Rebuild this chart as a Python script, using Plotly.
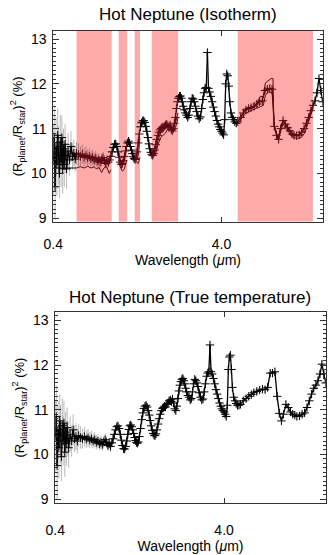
import plotly.graph_objects as go

# ---------------- data ----------------
wavelength = [
    0.400, 0.405, 0.410, 0.415, 0.420, 0.425, 0.430, 0.435, 0.440, 0.445, 0.450, 0.455,
    0.460, 0.465, 0.470, 0.475, 0.480, 0.490, 0.500, 0.510, 0.520, 0.530, 0.540, 0.550,
    0.565, 0.580, 0.595, 0.610, 0.625, 0.640, 0.655, 0.670, 0.685, 0.700, 0.715, 0.730,
    0.745, 0.760, 0.775, 0.790, 0.805, 0.820, 0.835, 0.850, 0.865, 0.880,
    0.895, 0.910, 0.925, 0.940, 0.955, 0.970, 0.985, 1.000, 1.015, 1.030, 1.045, 1.060,
    1.075, 1.090, 1.105, 1.120, 1.135, 1.150, 1.165, 1.180, 1.195, 1.210, 1.225, 1.240,
    1.260, 1.280, 1.300, 1.320, 1.340, 1.360, 1.380, 1.400, 1.420, 1.440, 1.460, 1.480,
    1.500, 1.520, 1.540, 1.560, 1.580, 1.600, 1.625, 1.650, 1.675, 1.700, 1.725, 1.750,
    1.775, 1.800, 1.830, 1.860, 1.890, 1.920, 1.950, 1.980, 2.010, 2.040, 2.070, 2.100,
    2.130, 2.160, 2.190, 2.220, 2.250, 2.280, 2.310, 2.340, 2.370, 2.400, 2.440, 2.480,
    2.520, 2.560, 2.600, 2.640, 2.680, 2.720, 2.760, 2.800, 2.850, 2.900, 2.950, 3.000,
    3.050, 3.100, 3.150, 3.200, 3.250, 3.300, 3.350, 3.400, 3.460, 3.520, 3.580, 3.640,
    3.700, 3.760, 3.820, 3.880, 3.940, 4.000, 4.060, 4.120, 4.180, 4.240, 4.300, 4.360,
    4.420, 4.480, 4.560, 4.640, 4.720, 4.800, 4.900, 5.000,
    5.2, 5.4, 5.6, 5.8, 6.0, 6.25, 6.5, 6.75, 7.0, 7.25, 7.5, 7.75, 8.0, 8.25, 8.5, 8.75,
    9.0, 9.3, 9.6, 9.9, 10.2, 10.5, 10.8, 11.2, 11.6, 12.0, 12.4, 12.8, 13.2, 13.6, 14.0,
    14.4, 14.8, 15.2, 15.6, 16.0,
]

depth_true = [
    10.40, 10.85, 9.75, 10.55, 10.15, 10.75, 10.45, 9.95, 10.65, 10.30, 10.70, 10.05,
    10.50, 10.25, 10.60, 10.35, 10.15, 10.45, 10.30, 10.55, 10.35, 10.40, 10.30, 10.42,
    10.38, 10.35, 10.40, 10.34, 10.37, 10.32, 10.35, 10.30, 10.33, 10.27, 10.30, 10.24,
    10.27, 10.22, 10.28, 10.33, 10.27, 10.20, 10.24, 10.18, 10.26, 10.35,
    10.45, 10.55, 10.62, 10.64, 10.58, 10.45, 10.32, 10.20, 10.13, 10.12, 10.18, 10.30,
    10.45, 10.56, 10.64, 10.66, 10.62, 10.55, 10.47, 10.38, 10.31, 10.27, 10.25, 10.28,
    10.40, 10.58, 10.78, 10.93, 11.03, 11.08, 11.10, 11.06, 10.98, 10.88, 10.76, 10.64,
    10.54, 10.47, 10.43, 10.42, 10.46, 10.55, 10.68, 10.80, 10.90, 10.98, 11.03, 11.05,
    11.08, 11.06, 11.12, 11.15, 11.20, 11.22, 11.18, 11.24, 11.15, 11.02, 10.98, 11.08,
    11.25, 11.42, 11.55, 11.63, 11.68, 11.70, 11.65, 11.58, 11.48, 11.40, 11.32, 11.28,
    11.22, 11.25, 11.40, 11.58, 11.68, 11.65, 11.60, 11.52, 11.38, 11.28, 11.22, 11.24,
    11.40, 11.58, 11.75, 11.82, 11.85, 12.45, 11.85, 11.80, 11.70, 11.58, 11.45, 11.35,
    11.25, 11.15, 11.08, 11.02, 10.98, 10.95, 10.90, 10.85, 11.10, 11.90, 12.18, 12.22,
    11.90, 11.50, 11.28, 11.20, 11.14, 11.10, 11.10, 11.12,
    11.20, 11.25, 11.30, 11.34, 11.38, 11.41, 11.44, 11.46, 11.45, 11.50, 11.82, 11.82,
    11.85, 11.30, 10.92, 10.75, 10.90, 11.12, 11.05, 10.95, 10.90, 10.88, 10.85, 10.86,
    10.90, 10.93, 11.05, 11.20, 11.35, 11.48, 11.55, 11.65, 11.80, 12.02, 11.80, 11.60,
]

depth_iso = [
    10.30, 10.80, 9.70, 10.60, 10.20, 10.85, 10.40, 10.00, 10.70, 10.25, 10.80, 10.10,
    10.55, 10.20, 10.65, 10.40, 10.10, 10.50, 10.30, 10.60, 10.38, 10.45, 10.32, 10.45,
    10.42, 10.38, 10.43, 10.36, 10.40, 10.35, 10.38, 10.33, 10.36, 10.30, 10.34, 10.27,
    10.30, 10.25, 10.30, 10.35, 10.28, 10.22, 10.28, 10.25, 10.30, 10.38,
    10.48, 10.58, 10.65, 10.66, 10.60, 10.48, 10.36, 10.25, 10.20, 10.22, 10.28, 10.38,
    10.50, 10.60, 10.68, 10.72, 10.68, 10.60, 10.52, 10.44, 10.37, 10.33, 10.31, 10.34,
    10.48, 10.68, 10.88, 11.04, 11.13, 11.17, 11.18, 11.14, 11.05, 10.94, 10.80, 10.66,
    10.55, 10.47, 10.42, 10.40, 10.44, 10.52, 10.64, 10.76, 10.85, 10.92, 10.97, 11.00,
    11.03, 11.02, 11.05, 11.08, 11.10, 11.06, 11.03, 11.08, 10.98, 10.95, 11.00, 11.12,
    11.25, 11.45, 11.60, 11.68, 11.72, 11.73, 11.68, 11.60, 11.50, 11.42, 11.35, 11.30,
    11.25, 11.30, 11.45, 11.60, 11.68, 11.66, 11.60, 11.50, 11.38, 11.28, 11.22, 11.26,
    11.45, 11.65, 11.80, 11.90, 11.92, 12.70, 11.90, 11.82, 11.72, 11.60, 11.48, 11.38,
    11.28, 11.18, 11.10, 11.04, 10.98, 10.94, 10.90, 10.86, 11.20, 12.00, 12.22, 12.18,
    11.95, 11.60, 11.35, 11.25, 11.20, 11.15, 11.12, 11.15,
    11.25, 11.35, 11.42, 11.45, 11.47, 11.50, 11.55, 11.60, 11.62, 11.85, 11.88, 11.90,
    11.88, 11.05, 10.85, 10.76, 11.00, 11.18, 11.10, 11.02, 10.95, 10.88, 10.85, 10.84,
    10.86, 10.92, 11.00, 11.12, 11.25, 11.40, 11.52, 11.62, 11.80, 12.12, 11.85, 11.60,
]

# uncertainties: the short-wavelength points are noisy, the rest carry a small error
err_blue = [
    0.80, 0.70, 0.75, 0.65, 0.70, 0.60, 0.65, 0.55, 0.60, 0.55, 0.50, 0.55,
    0.45, 0.50, 0.45, 0.40, 0.45, 0.40, 0.35, 0.35, 0.30, 0.30, 0.28, 0.25,
]
err_optical = [
    0.25, 0.22, 0.22, 0.20, 0.20, 0.18, 0.18, 0.17, 0.17, 0.16, 0.16, 0.15,
    0.15, 0.14, 0.14, 0.13, 0.13, 0.12, 0.12, 0.12, 0.11, 0.11,
]
err_ir = 0.08

# shaded windows of the isotherm panel (micron)
window_start = [0.55, 0.98, 1.22, 1.54, 5.0]
window_end = [0.89, 1.10, 1.31, 2.21, 14.0]

# isotherm model curves inside the windows (None = break)
model_wl = [
    0.55, 0.58, 0.61, 0.64, 0.67, 0.70, 0.72, 0.75, 0.775, 0.80, 0.83, 0.86, 0.88, None,
    0.98, 1.00, 1.03, 1.06, 1.09, None,
    1.22, 1.25, 1.28, 1.31, None,
    1.54, 1.58, 1.63, 1.68, 1.74, 1.80, 1.86, 1.92, 1.98, 2.04, 2.10, 2.16, 2.21, None,
    5.0, 5.3, 5.6, 6.0, 6.4, 6.8, 7.1, 7.3, 7.6, 7.9, 8.1, 8.2, 8.5, 8.7, 9.0, 9.3, 9.7,
    10.2, 10.7, 11.3, 11.9, 12.5, 13.2, 14.0,
]
model_low = [
    10.12, 10.15, 10.12, 10.16, 10.12, 10.15, 10.10, 10.13, 10.02, 10.12, 10.15, 10.00, 10.08, None,
    10.30, 10.15, 10.05, 10.10, 10.30, None,
    10.35, 10.25, 10.22, 10.35, None,
    10.55, 10.40, 10.45, 10.65, 10.80, 10.85, 10.90, 11.00, 11.05, 10.98, 10.95, 11.10, 11.25, None,
    11.12, 11.25, 11.35, 11.40, 11.45, 11.50, 11.52, 11.75, 11.82, 11.80, 11.75, 11.10, 10.85,
    10.75, 10.95, 11.10, 11.00, 10.90, 10.80, 10.78, 10.80, 10.90, 11.15, 11.45,
]
model_high = [
    10.36, 10.38, 10.35, 10.38, 10.33, 10.35, 10.30, 10.32, 10.28, 10.33, 10.30, 10.26, 10.33, None,
    10.38, 10.25, 10.20, 10.28, 10.55, None,
    10.36, 10.30, 10.40, 10.80, None,
    10.45, 10.40, 10.50, 10.75, 10.90, 10.98, 11.02, 11.05, 11.05, 10.98, 11.05, 11.20, 11.35, None,
    11.15, 11.30, 11.45, 11.48, 11.52, 11.72, 11.72, 12.02, 12.08, 12.12, 12.12, 11.10, 10.90,
    10.80, 11.05, 11.18, 11.08, 10.95, 10.88, 10.85, 10.90, 11.02, 11.25, 11.50,
]
# the low model continues blueward of the first window
model_blue_wl = [0.40, 0.55]
model_blue_val = [10.12, 10.12]

x_ticks = [0.4, 4.0]
x_ticktext = ["0.4", "4.0"]
y_ticks = [9, 10, 11, 12, 13]
y_range = [8.92, 13.18]
x_range_um = [0.4, 16.0]

# ---------------- styling ----------------
import math

FONT = "Liberation Sans, Arial, Helvetica, sans-serif"
PINK = "#ffaaaa"
DARKRED = "#5e0a12"
ERRC = "rgba(0,0,0,0.28)"

n = len(wavelength)
errors = err_blue + err_optical + [err_ir] * (n - len(err_blue) - len(err_optical))


def in_window(w):
    return any(a <= w <= b for a, b in zip(window_start, window_end))


fig = go.Figure()

# pink windows (top panel)
wx, wy = [], []
for a, b in zip(window_start, window_end):
    wx += [a, a, b, b, a, None]
    wy += [y_range[0], y_range[1], y_range[1], y_range[0], y_range[0], None]
fig.add_trace(go.Scatter(x=wx, y=wy, mode="lines", fill="toself", fillcolor=PINK,
                         line=dict(width=0, color=PINK), hoverinfo="skip",
                         showlegend=False, xaxis="x", yaxis="y"))


def add_spectrum(values, xa, ya, split):
    colors = []
    for w in wavelength:
        colors.append(DARKRED if (split and in_window(w)) else "black")
    fig.add_trace(go.Scatter(
        x=wavelength, y=values, mode="markers",
        marker=dict(symbol="cross-thin", size=6, color=colors,
                    line=dict(width=1, color=colors)),
        error_y=dict(type="data", array=errors, visible=True, color=ERRC,
                     thickness=1, width=0),
        showlegend=False, xaxis=xa, yaxis=ya, hoverinfo="skip"))
    segs = {"black": ([], []), DARKRED: ([], [])}
    for i in range(n - 1):
        mid = math.sqrt(wavelength[i] * wavelength[i + 1])
        c = DARKRED if (split and in_window(mid)) else "black"
        segs[c][0].extend([wavelength[i], wavelength[i + 1], None])
        segs[c][1].extend([values[i], values[i + 1], None])
    for c, (sx, sy) in segs.items():
        if sx:
            fig.add_trace(go.Scatter(x=sx, y=sy, mode="lines",
                                     line=dict(color=c, width=1.3),
                                     showlegend=False, xaxis=xa, yaxis=ya,
                                     hoverinfo="skip"))


# top panel
fig.add_trace(go.Scatter(x=model_blue_wl, y=model_blue_val, mode="lines",
                         line=dict(color="black", width=1), showlegend=False,
                         xaxis="x", yaxis="y", hoverinfo="skip"))
add_spectrum(depth_iso, "x", "y", True)
for mv in (model_low, model_high):
    fig.add_trace(go.Scatter(x=model_wl, y=mv, mode="lines",
                             line=dict(color=DARKRED, width=1), connectgaps=False,
                             showlegend=False, xaxis="x", yaxis="y", hoverinfo="skip"))

# bottom panel
add_spectrum(depth_true, "x2", "y2", False)

xlog = [math.log10(x_range_um[0]), math.log10(x_range_um[1])]

common_x = dict(type="log", range=xlog, tickvals=x_ticks, ticktext=x_ticktext,
                ticks="inside", ticklen=5, tickcolor="#333", showline=True,
                linecolor="#333", linewidth=1, mirror="ticks", showgrid=False,
                zeroline=False, automargin=False,
                tickfont=dict(family=FONT, size=14, color="black"))
common_y = dict(range=y_range, tickvals=y_ticks, ticks="inside", ticklen=6,
                tickcolor="#333", showline=True, linecolor="#333", linewidth=1,
                mirror="ticks", showgrid=False, zeroline=False, automargin=False,
                minor=dict(dtick=0.1, ticks="inside", ticklen=3, tickcolor="#333"),
                tickfont=dict(family=FONT, size=14, color="black"),
                ticklabelstandoff=3)

ytitle = "(R<sub>planet</sub>/R<sub>star</sub>)<sup>2</sup> (%)"
xtitle = "Wavelength (<i>\u03bc</i>m)"

fig.update_layout(
    width=332, height=555,
    margin=dict(l=0, r=0, t=0, b=0),
    paper_bgcolor="white", plot_bgcolor="white",
    font=dict(family=FONT, color="black"),
    xaxis=dict(domain=[0.1605, 0.972], anchor="y", ticklabelstandoff=9,
               title=dict(text=xtitle, font=dict(size=14), standoff=3), **common_x),
    yaxis=dict(domain=[0.6005, 0.9441], anchor="x",
               title=dict(text=ytitle, font=dict(size=13), standoff=5), **common_y),
    xaxis2=dict(domain=[0.1666, 0.981], anchor="y2", ticklabelstandoff=14,
                title=dict(text=xtitle, font=dict(size=14), standoff=3), **common_x),
    yaxis2=dict(domain=[0.0942, 0.4373], anchor="x2",
                title=dict(text=ytitle, font=dict(size=13), standoff=5), **common_y),
    annotations=[
        dict(text="Hot Neptune (Isotherm)", x=188 / 332, y=1 - 15 / 555,
             xref="paper", yref="paper", showarrow=False,
             font=dict(family=FONT, size=17, color="black"),
             xanchor="center", yanchor="middle"),
        dict(text="Hot Neptune (True temperature)", x=190 / 332, y=1 - 297 / 555,
             xref="paper", yref="paper", showarrow=False,
             font=dict(family=FONT, size=17, color="black"),
             xanchor="center", yanchor="middle"),
    ],
)

fig.write_html("out.html", config={"displayModeBar": False},
               post_script="document.body.style.margin='0';document.body.style.overflow='hidden';")
